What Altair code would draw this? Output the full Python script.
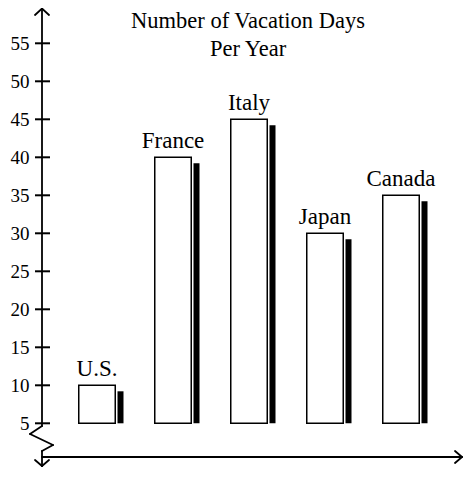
import altair as alt
import pandas as pd

# ---- data ----
COUNTRIES = ["U.S.", "France", "Italy", "Japan", "Canada"]
DAYS = [10, 40, 45, 30, 35]
Y_TICKS = [5, 10, 15, 20, 25, 30, 35, 40, 45, 50, 55]
TITLE_LINES = ["Number of Vacation Days", "Per Year"]
BASE = 5

df = pd.DataFrame({"country": COUNTRIES, "days": DAYS})
ticks_df = pd.DataFrame({"days": Y_TICKS})
one = pd.DataFrame({"k": [0]})

FONT = "'Liberation Serif', 'Times New Roman', 'DejaVu Serif', serif"
LEFT = 34
W, H = 421, 449          # svg: 455 x 459, fits the 471x479 window with its 8px margins

y_scale = alt.Scale(domain=[0.566, 59.645], nice=False, zero=False)
x_scale = alt.Scale(domain=COUNTRIES, range=[17, 397], paddingInner=0, paddingOuter=0)

x_enc = alt.X("country:N", scale=x_scale, axis=None, sort=COUNTRIES, title=None)
y_axis = alt.Axis(values=Y_TICKS, domain=False, ticks=False, grid=False,
                  labelFont=FONT, labelFontSize=19, labelColor="black",
                  labelPadding=13, title=None)
y_main = alt.Y("days:Q", scale=y_scale, axis=y_axis, title=None)

bars = alt.Chart(df).mark_bar(size=36.5, fill="white", stroke="black",
                              strokeWidth=1.5).encode(
    x=x_enc, y=y_main, y2=alt.datum(BASE))

shadow = alt.Chart(df).mark_bar(size=6, color="black", xOffset=23.5,
                                yOffset=6).encode(
    x=x_enc, y=y_main, y2=alt.datum(BASE))

labels = alt.Chart(df).mark_text(font=FONT, fontSize=23, baseline="alphabetic",
                                 dy=-9.5, color="black").encode(
    x=x_enc, y=y_main, text="country:N")

tick_rules = alt.Chart(ticks_df).mark_rule(color="black", strokeWidth=2).encode(
    y=y_main, x=alt.value(-7), x2=alt.value(8))

title = alt.Chart(one).mark_text(text=TITLE_LINES, font=FONT, fontSize=22.5,
                                 lineHeight=28, align="center",
                                 baseline="alphabetic", color="black").encode(
    x=alt.value(248 - 42), y=alt.value(28 - 8))

# axis ornaments (page coords -> plot coords)
segments = [
    (42, 8.5, 42, 426),
    (35, 15, 42, 8.5), (49, 15, 42, 8.5),
    (42, 426, 30, 434), (30, 434, 53, 445), (53, 445, 42, 451),
    (42, 451, 42, 466),
    (35, 460, 42, 466), (49, 460, 42, 466),
    (42, 457, 462, 457),
    (455, 451, 462, 457), (455, 463, 462, 457),
]
deco = []
for (xa, ya, xb, yb) in segments:
    deco.append(alt.Chart(one).mark_rule(color="black", strokeWidth=1.8,
                                         strokeCap="round").encode(
        x=alt.value(xa - 42), y=alt.value(ya - 8),
        x2=alt.value(xb - 42), y2=alt.value(yb - 8)))

chart = alt.layer(bars, shadow, labels, tick_rules, title, *deco).properties(
    width=W, height=H,
    autosize=alt.AutoSizeParams(type="none"),
    padding={"left": LEFT, "top": 0, "right": 0, "bottom": 10},
).configure_view(stroke=None)

chart.save("out.html", embed_options={"renderer": "svg", "actions": False})
